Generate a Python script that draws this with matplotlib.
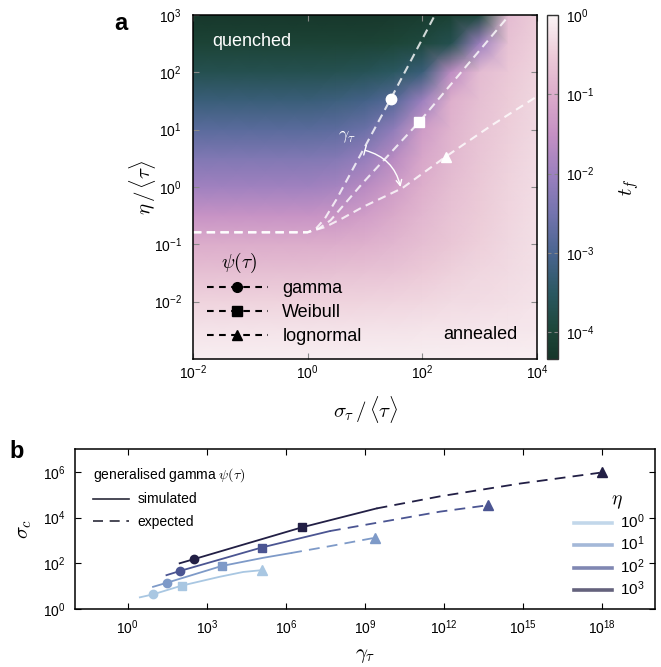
import numpy as np
import matplotlib
matplotlib.use("Agg")
import matplotlib.pyplot as plt
from matplotlib.colors import LinearSegmentedColormap, LogNorm
from matplotlib.lines import Line2D

plt.rcParams['font.family'] = ['Liberation Sans', 'DejaVu Sans']
plt.rcParams['mathtext.fontset'] = 'cm'
plt.rcParams['axes.linewidth'] = 1.1

# ---------------- panel a data ----------------
# grid positions (log10 sigma/<tau>, log10 eta/<tau>)
log_sigma = [-2, -1.5, -1, -0.5, 0, 0.5, 1, 1.5, 2, 2.5, 3, 3.5, 4]
log_eta = [3, 2.5, 2, 1.5, 1, 0.5, 0, -0.5, -1, -1.5, -2, -2.5, -3]
# log10 t_f (rows follow log_eta, columns follow log_sigma)
log_tf = [
    [-4.3, -4.3, -4.3, -4.3, -4.3, -4.3, -4.3, -4.25, -4.2, -4.1, -3.9, -0.75, -0.5],
    [-4.05, -4.05, -4.05, -4.05, -4.05, -4.05, -4.05, -4.0, -3.9, -3.7, -2.0, -0.65, -0.45],
    [-3.7, -3.7, -3.7, -3.7, -3.7, -3.68, -3.62, -3.5, -3.25, -1.6, -0.75, -0.55, -0.4],
    [-3.25, -3.25, -3.25, -3.25, -3.25, -3.2, -3.1, -2.85, -2.0, -0.95, -0.68, -0.5, -0.37],
    [-2.8, -2.8, -2.8, -2.8, -2.8, -2.75, -2.6, -2.15, -1.3, -0.88, -0.62, -0.46, -0.34],
    [-2.35, -2.35, -2.35, -2.35, -2.35, -2.3, -2.1, -1.65, -1.1, -0.8, -0.58, -0.43, -0.32],
    [-1.95, -1.95, -1.95, -1.95, -1.95, -1.88, -1.65, -1.3, -0.95, -0.72, -0.54, -0.4, -0.3],
    [-1.45, -1.45, -1.45, -1.45, -1.45, -1.4, -1.25, -1.05, -0.82, -0.64, -0.5, -0.38, -0.28],
    [-1.0, -1.0, -1.0, -1.0, -1.0, -0.97, -0.92, -0.83, -0.7, -0.56, -0.45, -0.35, -0.27],
    [-0.68, -0.68, -0.68, -0.68, -0.68, -0.66, -0.63, -0.6, -0.52, -0.44, -0.37, -0.31, -0.25],
    [-0.42, -0.42, -0.42, -0.42, -0.42, -0.41, -0.4, -0.38, -0.36, -0.32, -0.29, -0.26, -0.22],
    [-0.22, -0.22, -0.22, -0.22, -0.22, -0.22, -0.21, -0.21, -0.2, -0.19, -0.18, -0.17, -0.16],
    [-0.08, -0.08, -0.08, -0.08, -0.08, -0.08, -0.08, -0.08, -0.08, -0.08, -0.08, -0.08, -0.08],
]

# dashed curves (log10 x, log10 y)
gamma_x = [-2, 0, 0.15, 0.3, 0.5, 1.45, 2.22]
gamma_y = [-0.79, -0.79, -0.72, -0.55, -0.22, 1.54, 3.0]
weibull_x = [-2, 0, 0.2, 0.4, 0.97, 1.95, 3.52]
weibull_y = [-0.79, -0.79, -0.72, -0.58, 0.08, 1.14, 3.0]
lognorm_x = [-2, 0, 0.3, 0.6, 0.96, 1.65, 2.41, 3.2, 4.0]
lognorm_y = [-0.79, -0.79, -0.7, -0.55, -0.35, -0.02, 0.53, 1.07, 1.58]
# marker points on the curves
mark_a_x = [1.45, 1.95, 2.41]
mark_a_y = [1.54, 1.14, 0.53]
dist_names = ['gamma', 'Weibull', 'lognormal']
dist_markers = ['o', 's', '^']

# ---------------- panel b data ----------------
eta_labels = [r'$\mathdefault{10^0}$', r'$\mathdefault{10^1}$',
              r'$\mathdefault{10^2}$', r'$\mathdefault{10^3}$']
eta_colors = ['#a9c7e2', '#7e9ac8', '#4b5592', '#221f45']
sim_x = [[0.46, 0.96, 2.04, 3.49, 4.38, 5.0],
         [0.96, 1.49, 3.56, 5.14, 6.2],
         [1.47, 2.0, 5.08, 7.67],
         [1.97, 2.51, 6.6, 9.44]]
sim_y = [[0.51, 0.64, 1.02, 1.41, 1.62, 1.69],
         [0.97, 1.15, 1.88, 2.24, 2.45],
         [1.48, 1.67, 2.69, 3.41],
         [2.0, 2.18, 3.57, 4.4]]
exp_x = [[], [6.2, 7.67, 9.3], [7.67, 11.85, 13.6], [9.44, 11.85, 14.89, 17.9]]
exp_y = [[], [2.45, 2.75, 3.1], [3.41, 4.26, 4.53], [4.4, 4.93, 5.49, 5.96]]
circ_x = [0.96, 1.49, 2.0, 2.51]
circ_y = [0.64, 1.15, 1.67, 2.18]
sq_x = [2.04, 3.56, 5.08, 6.6]
sq_y = [1.02, 1.88, 2.69, 3.57]
tri_x = [5.08, 9.37, 13.68, 18.0]
tri_y = [1.70, 3.12, 4.55, 5.98]

# ---------------- colormap ----------------
cmap_pos = [-4.34, -4.0, -3.5, -3.0, -2.5, -2.0, -1.5, -1.0, -0.5, 0.0]
cmap_cols = ['#163529', '#1d4638', '#2b5862', '#4a6591', '#7474ae',
             '#9c80bf', '#c590c4', '#dcaccb', '#eccbd8', '#faf4f5']
vmin_log = -4.34
cmap = LinearSegmentedColormap.from_list(
    'tf', [((p - vmin_log) / (0 - vmin_log), c) for p, c in zip(cmap_pos, cmap_cols)])

W, H = 661, 667
fig = plt.figure(figsize=(W / 100, H / 100), dpi=100)

def fx(px):
    return px / W

def fy(py):
    return 1 - py / H

ax = fig.add_axes([fx(193), fy(359), fx(537) - fx(193), fy(15) - fy(359)])
cax = fig.add_axes([fx(547), fy(359), fx(558) - fx(547), fy(15) - fy(359)])
axb = fig.add_axes([fx(75), fy(609), fx(655) - fx(75), fy(449) - fy(609)])

# ---- panel a ----
ax.set_xscale('log')
ax.set_yscale('log')
X, Y = np.meshgrid(np.power(10.0, log_sigma), np.power(10.0, log_eta))
mesh = ax.pcolormesh(X, Y, np.power(10.0, np.array(log_tf)), cmap=cmap,
                     norm=LogNorm(10 ** vmin_log, 1), shading='gouraud')
ax.set_xlim(1e-2, 1e4)
ax.set_ylim(1e-3, 1e3)

for cx, cy in [(gamma_x, gamma_y), (weibull_x, weibull_y), (lognorm_x, lognorm_y)]:
    ax.plot(np.power(10.0, cx), np.power(10.0, cy), color='white', alpha=0.8,
            lw=1.5, dashes=(4, 2.6))
for mx, my, mk in zip(mark_a_x, mark_a_y, dist_markers):
    ax.plot(10 ** mx, 10 ** my, marker=mk, color='white', ms=7.5, ls='none')

ax.annotate('', xy=(10 ** 1.62, 10 ** 0.0), xytext=(10 ** 1.0, 10 ** 0.64),
            arrowprops=dict(arrowstyle=']->, widthA=0.35, lengthA=0.0', color='white',
                            lw=1.0, connectionstyle='arc3,rad=-0.3', shrinkA=0, shrinkB=0))
ax.text(10 ** 0.68, 10 ** 0.88, r'$\gamma_\tau$', color='white', fontsize=13,
        ha='center', va='center')
ax.text(0.172, 0.922, 'quenched', color='white', fontsize=13, ha='center',
        va='center', transform=ax.transAxes)
ax.text(0.834, 0.07, 'annealed', color='black', fontsize=13, ha='center',
        va='center', transform=ax.transAxes)

handles = [Line2D([], [], color='black', lw=1.5, dashes=(3.2, 2.6), marker=m, ms=7)
           for m in dist_markers]
leg = ax.legend(handles, dist_names, loc='lower left',
                bbox_to_anchor=(0.0, 0.0), frameon=False, fontsize=13,
                handlelength=3.4, handletextpad=0.8,
                labelspacing=0.4, borderaxespad=0.35, numpoints=1)
ax.text(0.134, 0.279, r'$\psi(\tau)$', fontsize=14, ha='center', va='center',
        transform=ax.transAxes)

ax.set_xticks([1e-2, 1e0, 1e2, 1e4])
ax.set_yticks([1e-2, 1e-1, 1e0, 1e1, 1e2, 1e3])
ax.minorticks_off()
ax.tick_params(direction='in', length=4, color='#888888', labelsize=10,
               top=True, right=True)
ax.tick_params(axis='x', pad=3)
ax.tick_params(axis='y', pad=8)
ax.set_xlabel(r'$\sigma_\tau\,/\,\langle\tau\rangle$', fontsize=15, labelpad=9)
ax.set_ylabel(r'$\eta\,/\,\langle\tau\rangle$', fontsize=15)
ax.yaxis.set_label_coords(-0.102, 0.5)

cb = fig.colorbar(mesh, cax=cax)
cb.set_ticks([1e-4, 1e-3, 1e-2, 1e-1, 1e0])
cax.minorticks_off()
cax.tick_params(direction='in', length=3, color='#888888', labelsize=10,
                left=True, right=True, pad=6)
cb.outline.set_linewidth(1.0)
cb.outline.set_edgecolor('#333333')
cb.set_label(r'$t_f$', fontsize=15, labelpad=16)

fig.text(fx(121), fy(23), 'a', fontsize=17, fontweight='bold', ha='center', va='center')
fig.text(fx(17), fy(451), 'b', fontsize=17, fontweight='bold', ha='center', va='center')

# ---- panel b ----
axb.set_xscale('log')
axb.set_yscale('log')
for i in range(4):
    c = eta_colors[i]
    axb.plot(np.power(10.0, sim_x[i]), np.power(10.0, sim_y[i]), color=c, lw=1.3)
    if exp_x[i]:
        axb.plot(np.power(10.0, exp_x[i]), np.power(10.0, exp_y[i]), color=c, lw=1.3,
                 dashes=(6, 4))
    axb.plot(10 ** circ_x[i], 10 ** circ_y[i], 'o', color=c, ms=6)
    axb.plot(10 ** sq_x[i], 10 ** sq_y[i], 's', color=c, ms=6)
    axb.plot(10 ** tri_x[i], 10 ** tri_y[i], '^', color=c, ms=7)
axb.set_xlim(1e-2, 1e20)
axb.set_ylim(1e0, 1e7)
axb.set_xticks([1e0, 1e3, 1e6, 1e9, 1e12, 1e15, 1e18])
axb.set_yticks([1e0, 1e2, 1e4, 1e6])
axb.minorticks_off()
axb.tick_params(direction='in', length=4, labelsize=10, top=True, right=True, pad=7)
axb.set_xlabel(r'$\gamma_\tau$', fontsize=15, labelpad=6)
axb.set_ylabel(r'$\sigma_c$', fontsize=15, labelpad=6)

h1 = [Line2D([], [], color='#2a2a3a', lw=1.2),
      Line2D([], [], color='#2a2a3a', lw=1.2, dashes=(6, 4))]
leg1 = axb.legend(h1, ['simulated', 'expected'], title=r'generalised gamma $\psi(\tau)$',
                  loc='upper left', frameon=False, fontsize=10, title_fontsize=10,
                  alignment='left', handlelength=2.6, handletextpad=0.6,
                  labelspacing=0.6, bbox_to_anchor=(0.01, 0.97))
axb.add_artist(leg1)
h2 = [Line2D([], [], color=c, lw=2.6, alpha=0.7) for c in eta_colors]
leg2 = axb.legend(h2, eta_labels, loc='lower right', frameon=False,
                  fontsize=11, handlelength=2.5, labelspacing=0.25,
                  handletextpad=0.5, bbox_to_anchor=(1.0, 0.0), borderaxespad=0.3)
axb.text(fx(617), fy(502), r'$\eta$', fontsize=14, ha='center', va='center',
         transform=fig.transFigure)

fig.savefig('out.png', dpi=100)
